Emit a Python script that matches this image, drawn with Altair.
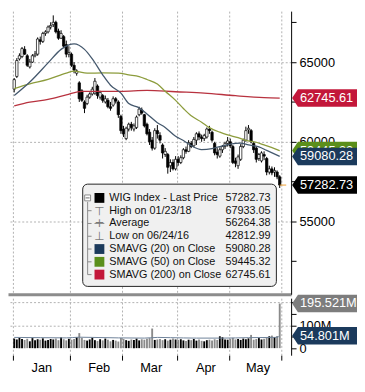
import altair as alt
import pandas as pd

# ------------------------------------------------------------------ data
month_names = ["Jan", "Feb", "Mar", "Apr", "May"]
jan_days = [2, 3, 4, 5, 8, 9, 10, 11, 12, 15, 16, 17, 18, 19, 22, 23, 24, 25, 26, 29, 30, 31]
feb_days = [1, 2, 5, 6, 7, 8, 9, 12, 13, 14, 15, 16, 19, 20, 21, 22, 23, 26, 27, 28]
mar_days = [1, 2, 5, 6, 7, 8, 9, 12, 13, 14, 15, 16, 19, 20, 21, 22, 23, 26, 27, 28, 29]
apr_days = [3, 4, 5, 6, 9, 10, 11, 12, 13, 16, 17, 18, 19, 20, 23, 24, 25, 26, 27, 30]
may_days = [2, 4, 7, 8, 9, 10, 11, 14, 15, 16, 17, 18, 21, 22, 23, 24, 25, 28, 29, 30]

opens = [
    63300, 64100, 65200, 65350, 65800, 65400, 64700, 65000, 65400, 65500, 66400,
    66300, 66800, 66900, 67200, 67350, 67500, 66950, 66500, 66600, 66100, 65500,
    65500, 64800, 64300, 63700, 63200, 62500, 62400, 62800, 63000, 63050,
    63500, 62800, 62900, 62500, 62600, 62200, 62300, 62700, 62500, 61600,
    60800, 60200, 60800, 61100, 60800, 60900, 61700, 62000, 61700, 61100, 60600,
    60100, 59600, 60700, 60400, 59800, 59200, 59200, 58500, 58700, 58300,
    58900, 58700, 59000, 59500, 59400, 59900, 59750, 60100, 60500, 60300,
    60200, 60300, 60800, 60600, 59900, 59350, 59100, 59500, 59700, 59900,
    60000, 59700, 58800, 58500, 58900, 59700, 60100, 60750, 60700, 59900,
    59600, 58950, 58800, 59200, 58950, 58100, 58300, 58100, 58100, 57800,
]
closes = [
    63900, 65100, 65400, 65850, 65500, 64800, 65000, 65400, 65500, 66450, 66300,
    66800, 66900, 67200, 67300, 67500, 66900, 66500, 66800, 66000, 65500, 65600,
    64800, 64500, 64450, 62700, 62600, 62100, 62800, 63000, 63300, 63800,
    62900, 63100, 62600, 62700, 62200, 62100, 62700, 62550, 61700, 60700,
    60500, 60850, 61100, 60900, 61000, 61550, 62050, 61800, 61000, 60500, 60000,
    59600, 60700, 60500, 60100, 59300, 59400, 58400, 58700, 58300, 58900,
    58700, 59000, 59500, 59400, 59950, 59700, 60150, 60500, 60300, 60200,
    60400, 60800, 60700, 60100, 59300, 59200, 59500, 59700, 59900, 60050,
    59750, 58700, 58650, 59050, 59700, 60100, 60700, 60850, 60000, 59500,
    58900, 59200, 59300, 59100, 58100, 58300, 58050, 58200, 57800, 57282.73,
]
highs = [
    64000, 65250, 65550, 65950, 66000, 65500, 65200, 65500, 65700, 66550, 66600,
    66900, 67000, 67300, 67500, 67933.05, 67600, 67100, 67000, 66700, 66350, 66000,
    65600, 65000, 64550, 63800, 63300, 62600, 62950, 63100, 63450, 64000,
    63600, 63200, 63000, 62900, 62750, 62500, 62850, 62800, 62600, 61700,
    61000, 60950, 61200, 61250, 61150, 61650, 62200, 62150, 61750, 61200, 60800,
    60300, 60850, 61050, 60600, 59900, 59600, 59300, 58900, 58900, 59100,
    59100, 59150, 59600, 59700, 60100, 60050, 60300, 60600, 60650, 60450,
    60500, 60900, 61000, 60700, 60000, 59600, 59650, 59800, 60000, 60300,
    60200, 59800, 59000, 59200, 59850, 60200, 60950, 61050, 60800, 60000,
    59700, 59300, 59400, 59400, 59050, 58500, 58450, 58400, 58200, 57900,
]
lows = [
    63100, 64000, 65100, 65250, 65450, 64700, 64600, 64950, 65300, 65400, 66100,
    66200, 66650, 66800, 67050, 67200, 66800, 66400, 66450, 65900, 65300, 65300,
    64700, 64300, 64150, 62500, 62500, 61800, 62300, 62700, 62900, 62950,
    62700, 62650, 62450, 62400, 62100, 61950, 62200, 62400, 61500, 60500,
    60300, 60100, 60650, 60700, 60650, 60800, 61600, 61700, 60900, 60400, 59800,
    59450, 59500, 60200, 59900, 58950, 59050, 58000, 58100, 58200, 58200,
    58500, 58600, 58900, 59250, 59350, 59600, 59650, 59800, 60100, 60000,
    60050, 60200, 60500, 60000, 59150, 58950, 59000, 59300, 59550, 59700,
    59600, 58600, 58400, 58300, 58800, 59600, 60000, 60500, 59900, 59300,
    58700, 58800, 58700, 58850, 57900, 57950, 57900, 57800, 57650, 57100,
]
volumes_m = [
    42, 38, 45, 40, 36, 41, 30, 44, 35, 39, 37, 43, 33, 36, 40, 38, 42, 35, 47, 39, 34, 41,
    37, 40, 48, 66, 45, 36, 33, 38, 46, 35, 31, 39, 34, 42, 37, 30, 36, 33, 29, 44,
    40, 35, 32, 38, 36, 42, 34, 39, 37, 41, 44, 86, 36, 38, 40, 35, 39, 33, 37, 42, 38,
    36, 39, 34, 31, 37, 35, 40, 33, 38, 32, 30, 35, 37, 34, 39, 36, 52, 48, 38, 37,
    41, 45, 38, 40, 36, 42, 39, 43, 58, 37, 40, 44, 38, 41, 46, 52, 55, 48, 53, 195.521,
]

sma20_at = [0, 6, 13, 18, 21, 23, 27, 30, 34, 37, 41, 44, 48, 51, 55, 58, 62, 65,
            68, 72, 76, 80, 83, 87, 90, 94, 97, 102]
sma20_vals = [62900, 63750, 64950, 65800, 66080, 66140, 65800, 65200, 64200, 63550,
              63050, 62400, 62130, 61750, 61200, 60900, 60350, 60080, 59760, 59510,
              59570, 59740, 59860, 59910, 59800, 59680, 59460, 59080.28]
sma50_at = [0, 6, 13, 20, 23, 28, 34, 40, 44, 48, 51, 55, 58, 62, 65, 68, 72, 75,
            79, 82, 86, 89, 93, 96, 100, 102]
sma50_vals = [63340, 63630, 63910, 64310, 64430, 64310, 64320, 64310, 64200, 64090,
              63910, 63630, 63170, 62600, 62090, 61630, 61230, 60890, 60600, 60430,
              60260, 60090, 59970, 59800, 59570, 59445.32]
sma200_at = [0, 6, 13, 20, 26, 34, 41, 51, 62, 73, 85, 96, 102]
sma200_vals = [62260, 62490, 62660, 62940, 63170, 63170, 63170, 63230, 63140, 63060,
               62890, 62770, 62745.61]
vol_sma_at = [0, 10, 20, 25, 30, 40, 50, 55, 60, 70, 80, 90, 100, 101, 102]
vol_sma_m = [47, 46, 45, 48, 47, 45, 44, 47, 46, 44, 44, 46, 47, 47.5, 54.801]

price_ticks = [52500, 55000, 57500, 60000, 62500, 65000, 67500]
vol_ticks_m = [0, 50, 100, 150, 200]

tag_labels = ["62745.61", "59445.32", "59080.28", "57282.73"]
tag_values = [62745.61, 59445.32, 59080.28, 57282.73]
vol_tag_labels = ["195.521M", "54.801M"]
vol_tag_values_m = [195.521, 54.801]

legend_labels = ["WIG Index - Last Price", "High on 01/23/18", "Average",
                 "Low on 06/24/16", "SMAVG (20) on Close", "SMAVG (50) on Close",
                 "SMAVG (200) on Close"]
legend_values = ["57282.73", "67933.05", "56264.38", "42812.99", "59080.28",
                 "59445.32", "62745.61"]

# ------------------------------------------------------------------ styles
FONT = "Liberation Sans"
W, H, HV = 288, 288, 58
C_NAVY, C_GREEN, C_RED = "#1b3a5c", "#5b8f1b", "#c3173a"
L_NAVY, L_GREEN, L_RED = "#44586d", "#8c9c3c", "#b8323f"
TAG_COLORS = [C_RED, C_GREEN, C_NAVY, "#000000"]
VOL_TAG_COLORS = ["#7d7d7d", C_NAVY]
TAG_PATH = "M-1,0L-0.82,-0.27L1,-0.27L1,0.27L-0.82,0.27Z"
TAG_W = 66
GRID = "#b0b0b0"

trading_days = [(1, jan_days), (2, feb_days), (3, mar_days), (4, apr_days), (5, may_days)]
dates = [f"2018-{m:02d}-{d:02d}" for m, days in trading_days for d in days]

df = pd.DataFrame({"date": dates, "open": opens, "high": highs, "low": lows,
                   "close": closes, "vol": [v * 1e6 for v in volumes_m]})
df["x"] = df.index + 0.5

months = [int(d[5:7]) for d in dates]
month_starts = [i for i in range(len(dates)) if i == 0 or months[i] != months[i - 1]] + [len(dates)]
label_expr = "".join(f"datum.value == {s} ? '{n}' : " for s, n in zip(month_starts, month_names)) + "''"

x_scale = alt.Scale(domain=[0, len(dates) + 2], nice=False, zero=False)
top_x_axis = alt.Axis(values=month_starts, labels=False, ticks=False, grid=True,
                      gridDash=[2, 2], gridColor=GRID, domain=True, domainColor="#8c8c8c",
                      domainWidth=3, title=None)
bot_x_axis = alt.Axis(values=month_starts, labelExpr=label_expr, labelOffset=29,
                      labelFlush=False, labelOverlap=False, grid=True, gridDash=[2, 2],
                      gridColor=GRID, ticks=True, tickSize=5, tickColor="black",
                      domain=False, title=None, labelFontSize=13, labelPadding=2,
                      labelFont=FONT, labelColor="black")

price_scale = alt.Scale(domain=[50430, 68200], nice=False, zero=False)
price_axis = alt.Axis(orient="right", values=price_ticks,
                      labelExpr="datum.value % 5000 == 0 ? format(datum.value, 'd') : ''",
                      title=None, grid=True, gridDash=[2, 2], gridColor=GRID,
                      gridOpacity={"condition": {"test": "datum.value % 5000 == 0", "value": 1}, "value": 0},
                      tickSize=5, tickColor="black", domainColor="black",
                      labelFontSize=13, labelPadding=3, labelFont=FONT, labelColor="black")

vol_scale = alt.Scale(domain=[-31e6, 219e6], nice=False, zero=False)
vol_axis = alt.Axis(orient="right", values=[v * 1e6 for v in vol_ticks_m],
                    labelExpr="datum.value == 0 ? '0' : datum.value == 100000000 ? '100M' : ''",
                    title=None, grid=True, gridDash=[2, 2], gridColor=GRID,
                    gridOpacity={"condition": {"test": "datum.value == 100000000 || datum.value == 200000000", "value": 1}, "value": 0},
                    tickSize=5, tickColor="black", domainColor="black",
                    labelFontSize=13, labelPadding=3, labelFont=FONT, labelColor="black")


def PX(field="x"):
    return alt.X(f"{field}:Q", scale=x_scale, axis=top_x_axis)


def PY(field):
    return alt.Y(f"{field}:Q", scale=price_scale, axis=price_axis)


def VX(field="x"):
    return alt.X(f"{field}:Q", scale=x_scale, axis=bot_x_axis)


def VY(field):
    return alt.Y(f"{field}:Q", scale=vol_scale, axis=vol_axis)


base = alt.Chart(df)
up_test = "datum.close >= datum.open"

wicks = base.mark_rule(color="black", strokeWidth=1).encode(x=PX(), y=PY("low"), y2="high:Q")
bodies = base.mark_bar(size=2.4, stroke="black", strokeWidth=0.7).encode(
    x=PX(), y=PY("open"), y2="close:Q",
    color=alt.condition(up_test, alt.value("white"), alt.value("black")))


def ma_line(at, vals, color):
    d = pd.DataFrame({"x": [a + 0.5 for a in at], "v": vals})
    return alt.Chart(d).mark_line(color=color, strokeWidth=1.3, interpolate="monotone").encode(
        x=PX(), y=PY("v"))


ma200 = ma_line(sma200_at, sma200_vals, L_RED)
ma50 = ma_line(sma50_at, sma50_vals, L_GREEN)
ma20 = ma_line(sma20_at, sma20_vals, L_NAVY)

last_df = pd.DataFrame({"x": [len(dates) - 0.5], "x2": [len(dates) + 2], "v": [closes[-1]]})
last_line = alt.Chart(last_df).mark_rule(color="#f0a030", strokeWidth=1).encode(
    x=PX(), x2="x2:Q", y=PY("v"))


def tag_layers(values, labels, colors, yfun):
    out = []
    for v, t, c in zip(values, labels, colors):
        d = pd.DataFrame({"v": [v], "t": [t]})
        out.append(alt.Chart(d).mark_point(shape=TAG_PATH, size=TAG_W ** 2, filled=True,
                                           opacity=1, strokeWidth=0, color=c).encode(
            x=alt.value(W + 1 + TAG_W / 2), y=yfun("v")))
        out.append(alt.Chart(d).mark_text(align="left", baseline="middle", fontSize=13,
                                          font=FONT, color="white").encode(
            x=alt.value(W + 9), y=yfun("v"), text="t:N"))
    return out


price_tags = tag_layers(tag_values, tag_labels, TAG_COLORS, PY)

# ---------------- legend box (annotation, pixel placed)
one = pd.DataFrame({"k": [0]})
LX, LY, LW, LH = 76, 176, 197, 104


def lx(v):
    return alt.value(LX + v)


def ly(v):
    return alt.value(LY + v)


leg = [alt.Chart(one).mark_rect(fill="#f0f0f0", stroke="#222222", strokeWidth=1,
                                cornerRadius=5).encode(x=lx(0), x2=lx(LW), y=ly(0), y2=ly(LH)),
       alt.Chart(one).mark_rule(color="#8a8a8a", strokeWidth=1).encode(x=lx(5), y=ly(18), y2=ly(92)),
       alt.Chart(one).mark_rect(fill="white", stroke="#8a8a8a", strokeWidth=1).encode(
           x=lx(2), x2=lx(8), y=ly(11), y2=ly(17)),
       alt.Chart(one).mark_rule(color="#6a6a6a", strokeWidth=1).encode(x=lx(3), x2=lx(7), y=ly(14))]
square_colors = {0: "#000000", 4: C_NAVY, 5: C_GREEN, 6: C_RED}
glyphs = {1: "\u22a4", 2: "+", 3: "\u22a5"}
for k, (lab, val) in enumerate(zip(legend_labels, legend_values)):
    cy = 14 + 13 * k
    if k > 0:
        leg.append(alt.Chart(one).mark_rule(color="#8a8a8a", strokeWidth=1).encode(
            x=lx(5), x2=lx(9), y=ly(cy)))
    if k in square_colors:
        leg.append(alt.Chart(one).mark_rect(fill=square_colors[k]).encode(
            x=lx(12), x2=lx(22), y=ly(cy - 5), y2=ly(cy + 5)))
    else:
        if k == 2:
            leg.append(alt.Chart(one).mark_rule(color="#8a8a8a", strokeWidth=1).encode(
                x=lx(12), x2=lx(22), y=ly(cy)))
        leg.append(alt.Chart(one).mark_text(align="center", baseline="middle", fontSize=12,
                                            font="DejaVu Sans", color="#7a7a7a").encode(
            x=lx(17), y=ly(cy), text=alt.value(glyphs[k])))
    leg.append(alt.Chart(one).mark_text(align="left", baseline="middle", fontSize=11,
                                        font=FONT, color="#111111").encode(
        x=lx(27), y=ly(cy), text=alt.value(lab)))
    leg.append(alt.Chart(one).mark_text(align="right", baseline="middle", fontSize=11,
                                        font=FONT, color="#111111").encode(
        x=lx(191), y=ly(cy), text=alt.value(val)))

price = alt.layer(wicks, bodies, ma200, ma50, ma20, last_line, *price_tags, *leg).properties(
    width=W, height=H)

# ---------------- volume panel
vbase = alt.Chart(df)
vbars = vbase.mark_bar(size=1.9).encode(
    x=VX(), y=VY("vol"), y2=alt.datum(0),
    color=alt.condition(up_test, alt.value("black"), alt.value("#8a8a8a")))
vsma_df = pd.DataFrame({"x": [a + 0.5 for a in vol_sma_at], "v": [v * 1e6 for v in vol_sma_m]})
vsma = alt.Chart(vsma_df).mark_line(color="#6d8299", strokeWidth=1, interpolate="monotone").encode(
    x=VX(), y=VY("v"))
vol_tags = tag_layers([v * 1e6 for v in vol_tag_values_m], vol_tag_labels, VOL_TAG_COLORS, VY)

volume = alt.layer(vbars, vsma, *vol_tags).properties(width=W, height=HV)

chart = alt.vconcat(price, volume, spacing=0).properties(
    padding={"left": 0, "top": 0, "right": 0, "bottom": 0}, background="white"
).configure_view(stroke=None)

chart.save("out.html", embed_options={"renderer": "svg", "actions": False})
